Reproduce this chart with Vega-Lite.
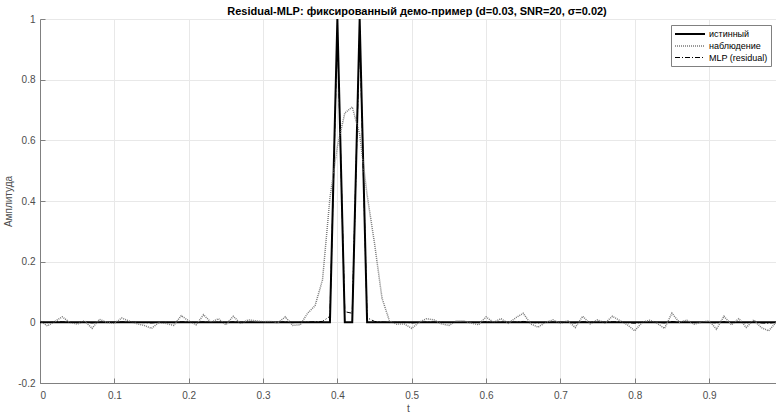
{
  "$schema": "https://vega.github.io/schema/vega-lite/v6.json",
  "width": 736,
  "height": 364,
  "autosize": {"type": "none"},
  "padding": {"left": 40, "top": 19, "right": 0, "bottom": 31},
  "background": "white",
  "title": {
    "text": "Residual-MLP: фиксированный демо-пример (d=0.03, SNR=20, σ=0.02)",
    "font": "Liberation Sans",
    "fontSize": 11,
    "fontWeight": "bold",
    "color": "#000000",
    "anchor": "middle",
    "frame": "group",
    "offset": 4,
    "dx": 9,
    "dy": 7
  },
  "config": {
    "view": {"stroke": null},
    "axis": {
      "labelFont": "Liberation Sans",
      "titleFont": "Liberation Sans",
      "labelFontSize": 10,
      "titleFontSize": 10,
      "labelColor": "#4d4d4d",
      "titleColor": "#4d4d4d",
      "titleFontWeight": "normal",
      "domainColor": "#808080",
      "tickColor": "#808080",
      "gridColor": "#e8e8e8",
      "gridWidth": 1,
      "tickSize": -5,
      "labelPadding": 12
    }
  },
  "data": {
    "values": [
      {"t": 0.00, "true": 0, "obs": 0.005, "mlp": 0.001},
      {"t": 0.01, "true": 0, "obs": -0.012, "mlp": -0.001},
      {"t": 0.02, "true": 0, "obs": 0.003, "mlp": 0.001},
      {"t": 0.03, "true": 0, "obs": 0.018, "mlp": 0.002},
      {"t": 0.04, "true": 0, "obs": 0.0, "mlp": 0.0},
      {"t": 0.05, "true": 0, "obs": -0.006, "mlp": -0.001},
      {"t": 0.06, "true": 0, "obs": 0.005, "mlp": 0.001},
      {"t": 0.07, "true": 0, "obs": -0.02, "mlp": -0.002},
      {"t": 0.08, "true": 0, "obs": 0.01, "mlp": 0.001},
      {"t": 0.09, "true": 0, "obs": 0.0, "mlp": 0.0},
      {"t": 0.10, "true": 0, "obs": -0.003, "mlp": 0.0},
      {"t": 0.11, "true": 0, "obs": 0.014, "mlp": 0.002},
      {"t": 0.12, "true": 0, "obs": 0.004, "mlp": 0.001},
      {"t": 0.13, "true": 0, "obs": -0.004, "mlp": 0.0},
      {"t": 0.14, "true": 0, "obs": -0.01, "mlp": -0.001},
      {"t": 0.15, "true": 0, "obs": -0.02, "mlp": -0.002},
      {"t": 0.16, "true": 0, "obs": 0.0, "mlp": 0.0},
      {"t": 0.17, "true": 0, "obs": -0.004, "mlp": 0.0},
      {"t": 0.18, "true": 0, "obs": -0.01, "mlp": -0.001},
      {"t": 0.19, "true": 0, "obs": 0.022, "mlp": 0.002},
      {"t": 0.20, "true": 0, "obs": 0.005, "mlp": 0.001},
      {"t": 0.21, "true": 0, "obs": -0.008, "mlp": -0.001},
      {"t": 0.22, "true": 0, "obs": 0.025, "mlp": 0.002},
      {"t": 0.23, "true": 0, "obs": 0.0, "mlp": 0.0},
      {"t": 0.24, "true": 0, "obs": 0.012, "mlp": 0.001},
      {"t": 0.25, "true": 0, "obs": -0.008, "mlp": -0.001},
      {"t": 0.26, "true": 0, "obs": 0.02, "mlp": 0.002},
      {"t": 0.27, "true": 0, "obs": -0.004, "mlp": 0.0},
      {"t": 0.28, "true": 0, "obs": 0.008, "mlp": 0.001},
      {"t": 0.29, "true": 0, "obs": 0.005, "mlp": 0.0},
      {"t": 0.30, "true": 0, "obs": 0.002, "mlp": 0.0},
      {"t": 0.31, "true": 0, "obs": 0.003, "mlp": 0.0},
      {"t": 0.32, "true": 0, "obs": -0.002, "mlp": 0.0},
      {"t": 0.33, "true": 0, "obs": 0.018, "mlp": 0.002},
      {"t": 0.34, "true": 0, "obs": -0.01, "mlp": -0.001},
      {"t": 0.35, "true": 0, "obs": -0.008, "mlp": 0.0},
      {"t": 0.36, "true": 0, "obs": 0.03, "mlp": 0.001},
      {"t": 0.37, "true": 0, "obs": 0.055, "mlp": 0.002},
      {"t": 0.38, "true": 0, "obs": 0.14, "mlp": 0.003},
      {"t": 0.39, "true": 0, "obs": 0.41, "mlp": 0.02},
      {"t": 0.40, "true": 1, "obs": 0.58, "mlp": 0.96},
      {"t": 0.41, "true": 0, "obs": 0.69, "mlp": 0.035},
      {"t": 0.42, "true": 0, "obs": 0.71, "mlp": 0.03},
      {"t": 0.43, "true": 1, "obs": 0.62, "mlp": 0.96},
      {"t": 0.44, "true": 0, "obs": 0.42, "mlp": 0.015},
      {"t": 0.45, "true": 0, "obs": 0.26, "mlp": 0.003},
      {"t": 0.46, "true": 0, "obs": 0.08, "mlp": 0.001},
      {"t": 0.47, "true": 0, "obs": 0.005, "mlp": 0.0},
      {"t": 0.48, "true": 0, "obs": -0.006, "mlp": 0.0},
      {"t": 0.49, "true": 0, "obs": -0.005, "mlp": 0.0},
      {"t": 0.50, "true": 0, "obs": -0.02, "mlp": -0.002},
      {"t": 0.51, "true": 0, "obs": 0.0, "mlp": 0.0},
      {"t": 0.52, "true": 0, "obs": 0.012, "mlp": 0.001},
      {"t": 0.53, "true": 0, "obs": 0.008, "mlp": 0.001},
      {"t": 0.54, "true": 0, "obs": -0.005, "mlp": 0.0},
      {"t": 0.55, "true": 0, "obs": -0.01, "mlp": -0.001},
      {"t": 0.56, "true": 0, "obs": 0.004, "mlp": 0.0},
      {"t": 0.57, "true": 0, "obs": 0.004, "mlp": 0.0},
      {"t": 0.58, "true": 0, "obs": -0.002, "mlp": 0.0},
      {"t": 0.59, "true": 0, "obs": -0.008, "mlp": -0.001},
      {"t": 0.60, "true": 0, "obs": 0.018, "mlp": 0.002},
      {"t": 0.61, "true": 0, "obs": 0.0, "mlp": 0.0},
      {"t": 0.62, "true": 0, "obs": 0.012, "mlp": 0.001},
      {"t": 0.63, "true": 0, "obs": -0.003, "mlp": 0.0},
      {"t": 0.64, "true": 0, "obs": 0.015, "mlp": 0.001},
      {"t": 0.65, "true": 0, "obs": 0.03, "mlp": 0.003},
      {"t": 0.66, "true": 0, "obs": -0.005, "mlp": 0.0},
      {"t": 0.67, "true": 0, "obs": -0.016, "mlp": -0.002},
      {"t": 0.68, "true": 0, "obs": 0.0, "mlp": 0.0},
      {"t": 0.69, "true": 0, "obs": 0.008, "mlp": 0.001},
      {"t": 0.70, "true": 0, "obs": -0.003, "mlp": 0.0},
      {"t": 0.71, "true": 0, "obs": 0.005, "mlp": 0.0},
      {"t": 0.72, "true": 0, "obs": -0.017, "mlp": -0.002},
      {"t": 0.73, "true": 0, "obs": 0.02, "mlp": 0.002},
      {"t": 0.74, "true": 0, "obs": -0.005, "mlp": 0.0},
      {"t": 0.75, "true": 0, "obs": 0.008, "mlp": 0.001},
      {"t": 0.76, "true": 0, "obs": -0.002, "mlp": 0.0},
      {"t": 0.77, "true": 0, "obs": 0.02, "mlp": 0.002},
      {"t": 0.78, "true": 0, "obs": 0.006, "mlp": 0.001},
      {"t": 0.79, "true": 0, "obs": -0.008, "mlp": -0.001},
      {"t": 0.80, "true": 0, "obs": -0.028, "mlp": -0.003},
      {"t": 0.81, "true": 0, "obs": 0.0, "mlp": 0.0},
      {"t": 0.82, "true": 0, "obs": 0.007, "mlp": 0.001},
      {"t": 0.83, "true": 0, "obs": -0.003, "mlp": 0.0},
      {"t": 0.84, "true": 0, "obs": -0.02, "mlp": -0.002},
      {"t": 0.85, "true": 0, "obs": 0.03, "mlp": 0.003},
      {"t": 0.86, "true": 0, "obs": 0.0, "mlp": 0.0},
      {"t": 0.87, "true": 0, "obs": 0.007, "mlp": 0.001},
      {"t": 0.88, "true": 0, "obs": -0.006, "mlp": -0.001},
      {"t": 0.89, "true": 0, "obs": 0.0, "mlp": 0.0},
      {"t": 0.90, "true": 0, "obs": 0.005, "mlp": 0.0},
      {"t": 0.91, "true": 0, "obs": -0.023, "mlp": -0.002},
      {"t": 0.92, "true": 0, "obs": 0.02, "mlp": 0.002},
      {"t": 0.93, "true": 0, "obs": -0.008, "mlp": -0.001},
      {"t": 0.94, "true": 0, "obs": 0.012, "mlp": 0.001},
      {"t": 0.95, "true": 0, "obs": -0.017, "mlp": -0.002},
      {"t": 0.96, "true": 0, "obs": 0.008, "mlp": 0.001},
      {"t": 0.97, "true": 0, "obs": -0.017, "mlp": -0.002},
      {"t": 0.98, "true": 0, "obs": -0.028, "mlp": -0.003},
      {"t": 0.99, "true": 0, "obs": 0.0, "mlp": 0.0}
    ]
  },
  "transform": [
    {"fold": ["true", "obs", "mlp"], "as": ["series", "value"]}
  ],
  "mark": {"type": "line", "clip": true},
  "encoding": {
    "x": {
      "field": "t",
      "type": "quantitative",
      "scale": {"domain": [0, 0.99], "nice": false, "zero": false},
      "axis": {
        "title": "t",
        "values": [0, 0.1, 0.2, 0.3, 0.4, 0.5, 0.6, 0.7, 0.8, 0.9],
        "labelExpr": "format(datum.value, '.1~f')",
        "titlePadding": 3
      }
    },
    "y": {
      "field": "value",
      "type": "quantitative",
      "scale": {"domain": [-0.2, 1], "nice": false},
      "axis": {
        "title": "Амплитуда",
        "values": [-0.2, 0, 0.2, 0.4, 0.6, 0.8, 1],
        "labelExpr": "datum.value < 0 ? '-' + format(-datum.value, '.1~f') : format(datum.value, '.1~f')",
        "labelPadding": 10,
        "titlePadding": 4
      }
    },
    "color": {
      "field": "series",
      "type": "nominal",
      "scale": {"domain": ["true", "obs", "mlp"], "range": ["#000000", "#7a7a7a", "#000000"]},
      "legend": {
        "title": null,
        "orient": "none",
        "legendX": 631,
        "legendY": 6,
        "symbolType": "M-3,0H3",
        "symbolSize": 100,
        "symbolOffset": 10,
        "labelFont": "Liberation Sans",
        "labelFontSize": 9,
        "labelColor": "#000000",
        "labelExpr": "datum.label == 'true' ? 'истинный' : datum.label == 'obs' ? 'наблюдение' : 'MLP (residual)'",
        "strokeColor": "#808080",
        "fillColor": "#ffffff",
        "padding": 3,
        "rowPadding": 1,
        "labelOffset": 13
      }
    },
    "strokeDash": {
      "field": "series",
      "type": "nominal",
      "scale": {"domain": ["true", "obs", "mlp"], "range": [[1, 0], [1, 1], [5, 2, 1, 2]]}
    },
    "strokeWidth": {
      "field": "series",
      "type": "nominal",
      "scale": {"domain": ["true", "obs", "mlp"], "range": [2, 1, 1.3]}
    }
  }
}
